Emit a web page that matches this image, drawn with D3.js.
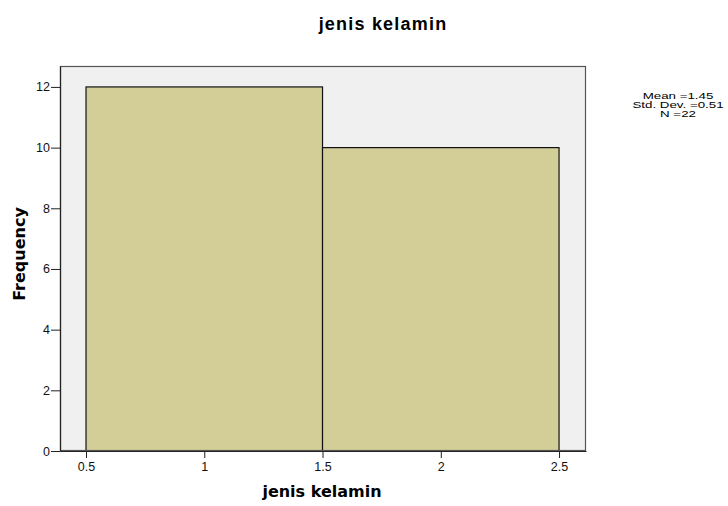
<!DOCTYPE html>
<html>
<head>
<meta charset="utf-8">
<script src="https://cdn.jsdelivr.net/npm/d3@7"></script>
<style>
  html, body { margin: 0; padding: 0; background: #ffffff; }
  svg { display: block; }
</style>
</head>
<body>
<svg id="chart" width="728" height="506"></svg>
<script>
// ---- data ----
const chartTitle = "jenis kelamin";
const xAxisTitle = "jenis kelamin";
const yAxisTitle = "Frequency";
const binStarts = [0.5, 1.5];
const binEnds = [1.5, 2.5];
const frequencies = [12, 10];
const xTicks = [0.5, 1, 1.5, 2, 2.5];
const xTickLabels = ["0.5", "1", "1.5", "2", "2.5"];
const yTicks = [0, 2, 4, 6, 8, 10, 12];
const statsLines = ["Mean =1.45", "Std. Dev. =0.51", "N =22"];
const xDomain = [0.39, 2.614];
const yDomain = [0, 12.69];

// ---- layout ----
const plot = { left: 60, right: 586, top: 66, bottom: 451 };
const svg = d3.select("#chart");

const x = d3.scaleLinear().domain(xDomain).range([plot.left, plot.right]);
const y = d3.scaleLinear().domain(yDomain).range([plot.bottom, plot.top]);

// background
svg.append("rect")
  .attr("x", plot.left).attr("y", plot.top)
  .attr("width", plot.right - plot.left).attr("height", plot.bottom - plot.top)
  .attr("fill", "#f0f0f0");

// bars
const bins = binStarts.map((s, i) => ({ x0: s, x1: binEnds[i], n: frequencies[i] }));
svg.append("g").selectAll("rect").data(bins).join("rect")
  .attr("x", d => x(d.x0))
  .attr("y", d => y(d.n))
  .attr("width", d => x(d.x1) - x(d.x0))
  .attr("height", d => y(0) - y(d.n))
  .attr("fill", "#d3ce98")
  .attr("stroke", "#111")
  .attr("stroke-width", 1.2);

// frame
svg.append("rect")
  .attr("x", plot.left + 0.5).attr("y", plot.top + 0.5)
  .attr("width", plot.right - plot.left - 1).attr("height", plot.bottom - plot.top - 1)
  .attr("fill", "none")
  .attr("stroke", "#555")
  .attr("stroke-width", 1.2);

// axes
const yAxis = d3.axisLeft(y).tickValues(yTicks).tickFormat(d3.format("d"))
  .tickSize(9).tickSizeOuter(0).tickPadding(1);
const gy = svg.append("g").attr("transform", `translate(${plot.left},0)`).call(yAxis);
gy.select(".domain").attr("stroke", "#222").attr("stroke-width", 1.2);
gy.selectAll(".tick line").attr("stroke", "#222");
gy.selectAll(".tick text").attr("fill", "#111")
  .style("font-family", "'Liberation Sans', Arial, sans-serif").style("font-size", "12.5px");

const xAxis = d3.axisBottom(x).tickValues(xTicks).tickFormat((d, i) => xTickLabels[i])
  .tickSize(7).tickSizeOuter(0).tickPadding(4);
const gx = svg.append("g").attr("transform", `translate(0,${plot.bottom})`).call(xAxis);
gx.select(".domain").attr("stroke", "#222").attr("stroke-width", 1.2);
gx.selectAll(".tick line").attr("stroke", "#222");
gx.selectAll(".tick text").attr("fill", "#111")
  .style("font-family", "'Liberation Sans', Arial, sans-serif").style("font-size", "12.5px");

// title
svg.append("text")
  .attr("x", 383).attr("y", 30)
  .attr("text-anchor", "middle")
  .style("font-family", "'Liberation Sans', Arial, sans-serif")
  .style("font-weight", "bold").style("font-size", "18px")
  .style("letter-spacing", "1.2px")
  .attr("fill", "#000")
  .text(chartTitle);

// x axis title
svg.append("text")
  .attr("x", 322).attr("y", 497)
  .attr("text-anchor", "middle")
  .style("font-family", "'DejaVu Sans', sans-serif")
  .style("font-weight", "bold").style("font-size", "16px")
  .attr("fill", "#000")
  .text(xAxisTitle);

// y axis title
svg.append("text")
  .attr("transform", "translate(24.5,254) rotate(-90)")
  .attr("text-anchor", "middle")
  .style("font-family", "'DejaVu Sans', sans-serif")
  .style("font-weight", "bold").style("font-size", "16px")
  .attr("fill", "#000")
  .text(yAxisTitle);

// stats (one text block, three lines, stretched horizontally like the reference)
const stats = svg.append("text")
  .attr("transform", "translate(678,98.5) scale(1.45,1)")
  .attr("text-anchor", "middle")
  .style("font-family", "'Liberation Sans', Arial, sans-serif")
  .style("font-size", "9.2px")
  .attr("fill", "#000");
stats.selectAll("tspan").data(statsLines).join("tspan")
  .attr("x", 0)
  .attr("dy", (d, i) => i === 0 ? 0 : 9.5)
  .text(d => d);
</script>
</body>
</html>
